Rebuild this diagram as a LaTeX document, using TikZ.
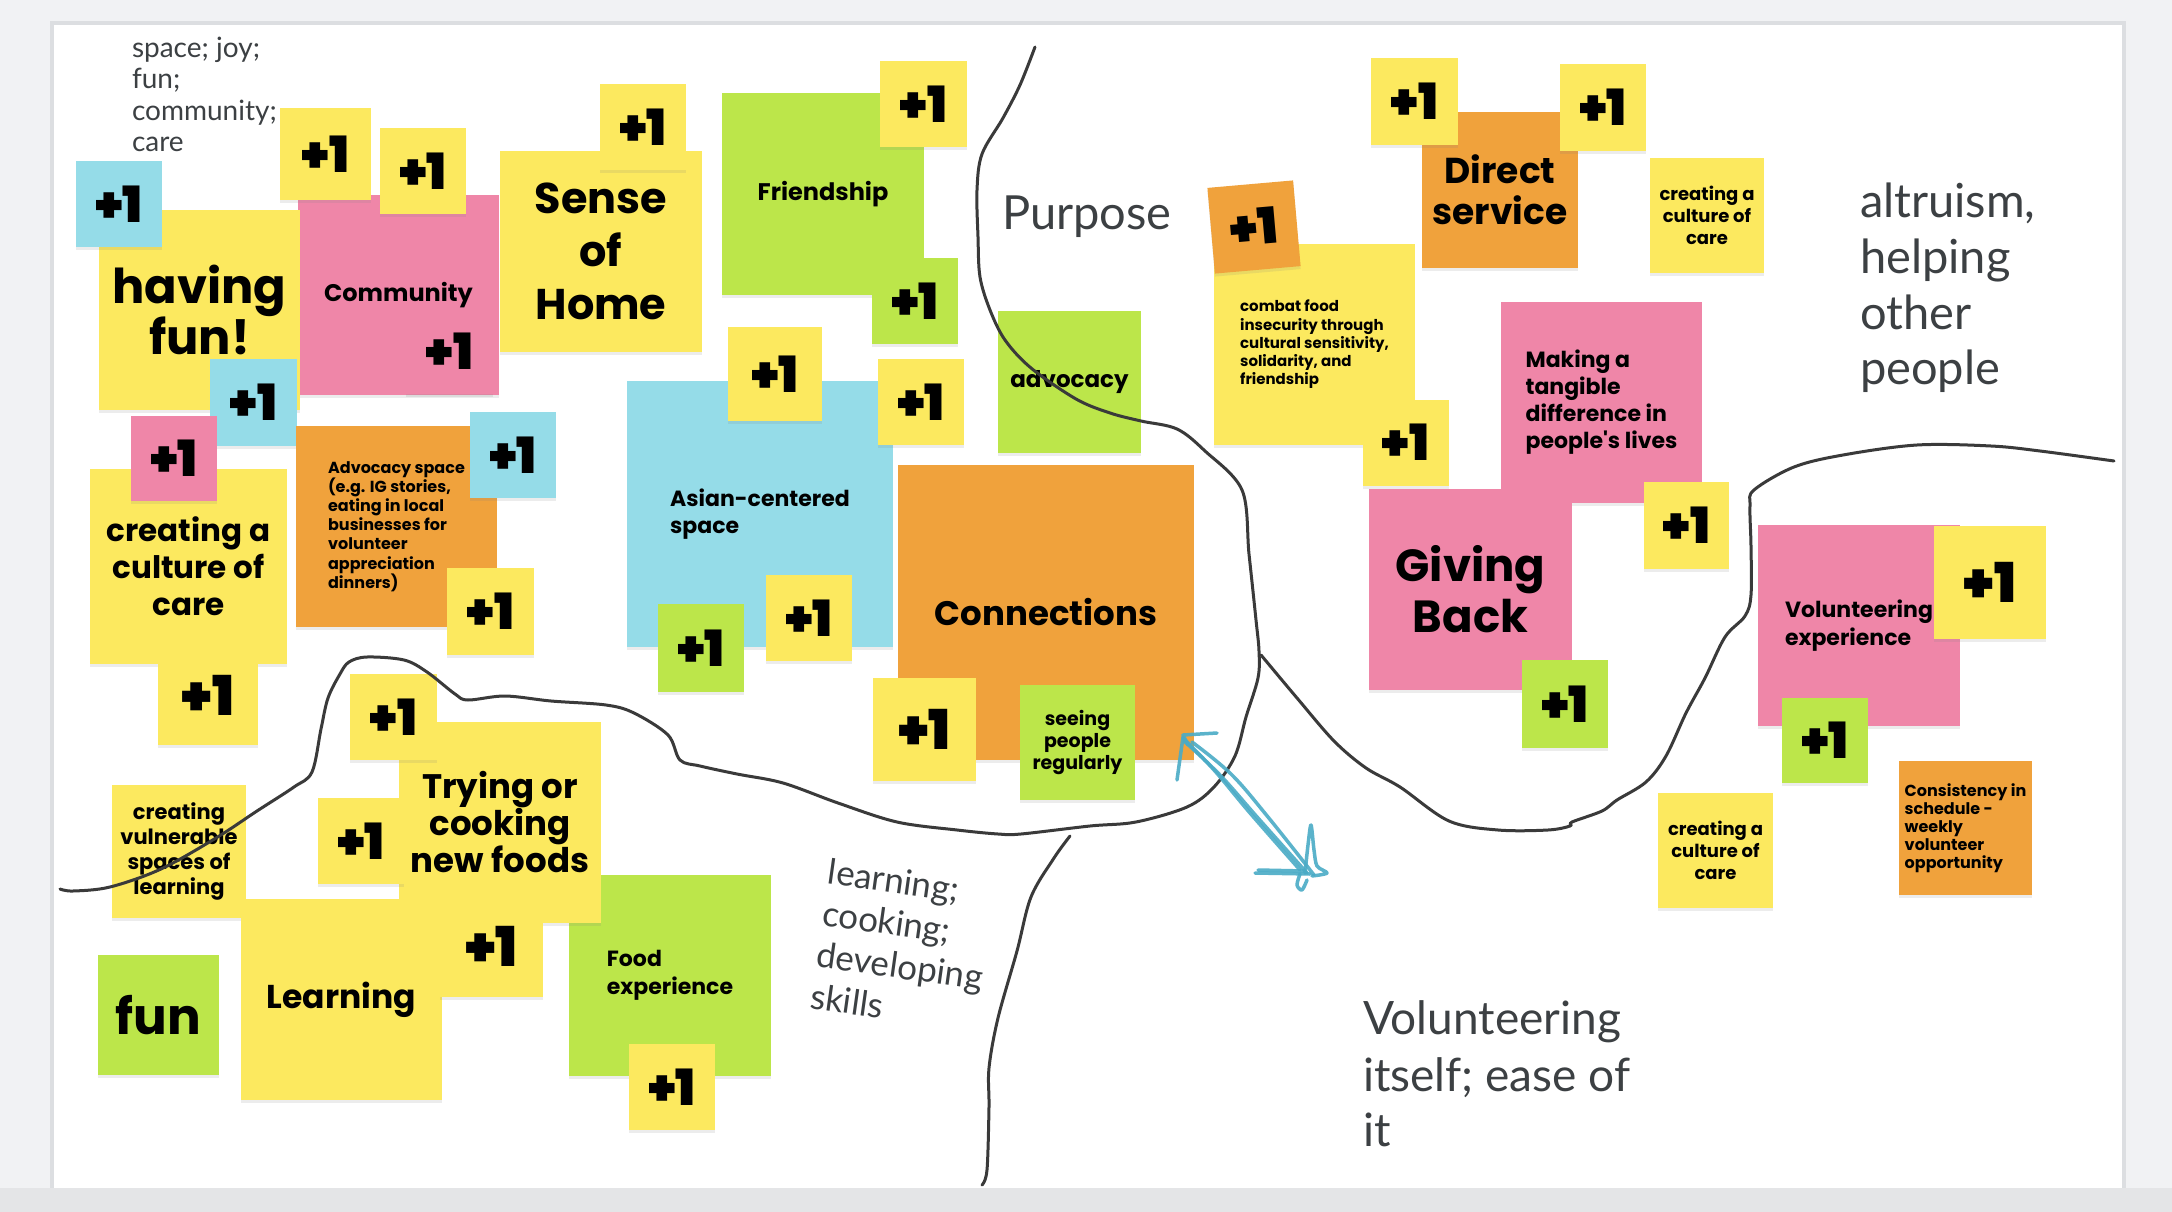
\documentclass[tikz,border=0pt]{standalone}
\usepackage{fontspec}
\usetikzlibrary{shadows}
\newfontfamily\pop{Poppins}
\newfontfamily\lat{Lato}
\IfFontExistsTF{Poppins Black}{\newfontfamily\popk{Poppins Black}}{\newcommand\popk{\pop\bfseries}}
\definecolor{yel}{HTML}{FCE95F}
\definecolor{pnk}{HTML}{EF86A8}
\definecolor{cyn}{HTML}{95DCE8}
\definecolor{grn}{HTML}{BCE64A}
\definecolor{org}{HTML}{F0A23C}
\definecolor{ink}{HTML}{3A3A3A}
\definecolor{lbl}{HTML}{3C4043}
\definecolor{arr}{HTML}{4AABC6}
\definecolor{pagebg}{HTML}{F1F2F4}
\definecolor{bandbg}{HTML}{E4E5E7}
\definecolor{boardedge}{HTML}{DCDEE1}
\tikzset{
  stk/.style={rectangle, inner sep=0pt, outer sep=0pt,
    drop shadow={shadow xshift=0pt, shadow yshift=-3pt, opacity=0.15}},
  wh/.style 2 args={minimum width=#1, minimum height=#2},
  txt/.style={inner sep=0pt, outer sep=0pt, text=black},
  fz/.style 2 args={txt, font=\pop\bfseries\fontsize{#1}{#2}\selectfont},
  ptxt/.style={txt, font=\popk\fontsize{50}{50}\selectfont},
  bptxt/.style={txt, font=\popk\fontsize{55}{55}\selectfont},
  lab/.style={inner sep=0pt, outer sep=0pt, text=lbl, anchor=base west},
  hand/.style={draw=ink, line width=3pt, line cap=round, line join=round},
  arrowst/.style={draw=arr, draw opacity=0.9, line width=3.5pt, line cap=round, line join=round}
}
\begin{document}
\begin{tikzpicture}[x=1pt,y=-1pt]
\useasboundingbox (0,0) rectangle (2172,1212);
\fill[pagebg] (0,0) rectangle (2172,1212);
\draw[line width=4pt, draw=boardedge, fill=white] (52,23) rectangle (2124,1205);
\fill[bandbg] (0,1188) rectangle (2172,1212);

% ---- top-left cluster
\node[stk, fill=pnk, wh={201}{200}] (community) at (398.5,295) {};
\node[fz={24}{28}] (communityT) at (community.center) {Community};
\node[stk, fill=yel, wh={201}{200}] (havingfun) at (199.5,310) {};
\node[fz={48}{50}, align=center] (havingfunT) at (havingfun.center) {having\\fun!};
\node[stk, fill=cyn, wh={86}{86}] (pA) at (119,204) {};
\node[ptxt] (pAt) at (pA.center) {+1};
\node[stk, fill=yel, wh={91}{92}] (pB) at (325.5,154) {};
\node[ptxt] (pBt) at (pB.center) {+1};
\node[stk, fill=yel, wh={86}{86}] (pC) at (423,171) {};
\node[ptxt] (pCt) at (pC.center) {+1};
\node[stk, fill=pnk, wh={87}{85}] (pD) at (449.5,351.5) {};
\node[ptxt] (pDt) at (pD.center) {+1};
\node[stk, fill=yel, wh={202}{201}] (sense) at (601,251.5) {};
\node[fz={43}{53}, align=center] (senseT) at (sense.center) {Sense\\of\\Home};
\node[stk, fill=yel, wh={86}{86}] (pE) at (643,127) {};
\node[ptxt] (pEt) at (pE.center) {+1};
\node[stk, fill=yel, wh={197}{195}] (culture1) at (188.5,566.5) {};
\node[fz={31}{37}, align=center] (culture1T) at (culture1.center) {creating a\\culture of\\care};
\node[stk, fill=cyn, wh={87}{87}] (pF) at (253.5,402.5) {};
\node[ptxt] (pFt) at (pF.center) {+1};
\node[stk, fill=pnk, wh={86}{85}] (pG) at (174,458.5) {};
\node[ptxt] (pGt) at (pG.center) {+1};
\node[stk, fill=yel, wh={100}{100}] (pH) at (208,695) {};
\node[bptxt] (pHt) at (pH.center) {+1};
\node[stk, fill=org, wh={201}{201}] (advspace) at (396.5,526.5) {};
\node[fz={16}{19.2}, align=left] (advspaceT) at (advspace.center) {Advocacy space\\(e.g. IG stories,\\eating in local\\businesses for\\volunteer\\appreciation\\dinners)};
\node[stk, fill=cyn, wh={86}{86}] (pI) at (513,455) {};
\node[ptxt] (pIt) at (pI.center) {+1};
\node[stk, fill=yel, wh={87}{87}] (pJ) at (490.5,611.5) {};
\node[ptxt] (pJt) at (pJ.center) {+1};

% ---- middle top
\node[stk, fill=grn, wh={202}{202}] (friend) at (823,194) {};
\node[fz={24}{28}] (friendT) at (friend.center) {Friendship};
\node[stk, fill=yel, wh={87}{86}] (pK) at (923.5,104) {};
\node[ptxt] (pKt) at (pK.center) {+1};
\node[stk, fill=grn, wh={86}{86}] (pL) at (915,301) {};
\node[ptxt] (pLt) at (pL.center) {+1};
\node[stk, fill=cyn, wh={266}{266}] (asian) at (760,514) {};
\node[fz={22}{27}, align=left] (asianT) at (asian.center) {Asian-centered\\space};
\node[stk, fill=yel, wh={94}{94}] (pM) at (775,374) {};
\node[ptxt] (pMt) at (pM.center) {+1};
\node[stk, fill=yel, wh={86}{86}] (pN) at (921,402) {};
\node[ptxt] (pNt) at (pN.center) {+1};
\node[stk, fill=grn, wh={86}{88}] (pO) at (701,648) {};
\node[ptxt] (pOt) at (pO.center) {+1};
\node[stk, fill=yel, wh={86}{86}] (pP) at (809,618) {};
\node[ptxt] (pPt) at (pP.center) {+1};
\node[stk, fill=grn, wh={143}{142}] (advoc) at (1069.5,382) {};
\node[fz={23}{27}] (advocT) at (advoc.center) {advocacy};
\node[stk, fill=org, wh={296}{295}] (conn) at (1046,612.5) {};
\node[fz={34}{40}] (connT) at (conn.center) {Connections};
\node[stk, fill=yel, wh={103}{103}] (pQ) at (924.5,729.5) {};
\node[bptxt] (pQt) at (pQ.center) {+1};
\node[stk, fill=grn, wh={115}{115}] (seeing) at (1077.5,742.5) {};
\node[fz={19}{22}, align=center] (seeingT) at (seeing.center) {seeing\\people\\regularly};

% ---- right top
\node[stk, fill=yel, wh={201}{201}] (combat) at (1314.5,344.5) {};
\node[fz={15}{18.3}, align=left] (combatT) at (combat.center) {combat food\\insecurity through\\cultural sensitivity,\\solidarity, and\\friendship};
\node[stk, fill=org, wh={86}{86}, rotate=5] (pR) at (1254,227) {};
\node[ptxt, rotate=5] (pRt) at (pR.center) {+1};
\node[stk, fill=yel, wh={86}{86}] (pS) at (1405.5,442.5) {};
\node[ptxt] (pSt) at (pS.center) {+1};
\node[stk, fill=org, wh={156}{156}] (direct) at (1500,190) {};
\node[fz={36}{41}, align=center] (directT) at (direct.center) {Direct\\service};
\node[stk, fill=yel, wh={87}{87}] (pT) at (1414.5,101.5) {};
\node[ptxt] (pTt) at (pT.center) {+1};
\node[stk, fill=yel, wh={86}{87}] (pU) at (1603,107.5) {};
\node[ptxt] (pUt) at (pU.center) {+1};
\node[stk, fill=yel, wh={114}{115}] (culture2) at (1707,215.5) {};
\node[fz={18}{22}, align=center] (culture2T) at (culture2.center) {creating a\\culture of\\care};
\node[stk, fill=pnk, wh={201}{201}] (making) at (1601.5,402.5) {};
\node[fz={22}{27}, align=left] (makingT) at (making.center) {Making a\\tangible\\difference in\\people's lives};
\node[stk, fill=pnk, wh={203}{201}] (giving) at (1470.5,589.5) {};
\node[fz={45}{51}, align=center] (givingT) at (giving.center) {Giving\\Back};
\node[stk, fill=yel, wh={85}{87}] (pV) at (1686.5,525.5) {};
\node[ptxt] (pVt) at (pV.center) {+1};
\node[stk, fill=grn, wh={86}{88}] (pW) at (1565,704) {};
\node[ptxt] (pWt) at (pW.center) {+1};
\node[stk, fill=pnk, wh={202}{201}] (volexp) at (1859,625.5) {};
\node[fz={22}{28}, align=left] (volexpT) at (volexp.center) {Volunteering\\experience};
\node[stk, fill=yel, wh={112}{113}] (pX) at (1990,582.5) {};
\node[bptxt] (pXt) at (pX.center) {+1};
\node[stk, fill=grn, wh={86}{85}] (pY) at (1825,740.5) {};
\node[ptxt] (pYt) at (pY.center) {+1};
\node[stk, fill=yel, wh={115}{115}] (culture3) at (1715.5,850.5) {};
\node[fz={18}{22}, align=center] (culture3T) at (culture3.center) {creating a\\culture of\\care};
\node[stk, fill=org, wh={133}{134}] (consist) at (1965.5,828) {};
\node[fz={16}{18}, align=left] (consistT) at (consist.center) {Consistency in\\schedule -\\weekly\\volunteer\\opportunity};

% ---- bottom left
\node[stk, fill=yel, wh={134}{133}] (vulner) at (179,851.5) {};
\node[fz={21}{25}, align=center] (vulnerT) at (vulner.center) {creating\\vulnerable\\spaces of\\learning};
\node[stk, fill=grn, wh={202}{201}] (food) at (670,975.5) {};
\node[fz={22}{28}, align=left] (foodT) at (food.center) {Food\\experience};
\node[stk, fill=yel, wh={202}{201}] (trying) at (500,822.5) {};
\node[fz={34}{37}, align=center] (tryingT) at (trying.center) {Trying or\\cooking\\new foods};
\node[stk, fill=yel, wh={87}{86}] (pZ) at (393.5,717) {};
\node[ptxt] (pZt) at (pZ.center) {+1};
\node[stk, fill=yel, wh={86}{86}] (pAA) at (361,841) {};
\node[ptxt] (pAAt) at (pAA.center) {+1};
\node[stk, fill=yel, wh={201}{201}] (learning) at (341.5,999.5) {};
\node[fz={33}{38}] (learningT) at (learning.center) {Learning};
\node[stk, fill=yel, wh={103}{102}] (pAB) at (491.5,946) {};
\node[bptxt] (pABt) at (pAB.center) {+1};
\node[stk, fill=grn, wh={121}{120}] (fun) at (158.5,1015) {};
\node[fz={50}{55}] (funT) at (fun.center) {fun};
\node[stk, fill=yel, wh={86}{86}] (pAC) at (672,1087) {};
\node[ptxt] (pACt) at (pAC.center) {+1};

% ---- hand-drawn region lines
\draw[hand] plot[smooth, tension=0.55] coordinates {(1035,47) (1020,85) (1003,118) (982,154) (977,190) (978,237) (980,277) (990,310) (1005,340) (1031,368) (1076,399) (1110,413) (1141,421) (1177,429) (1205,451) (1242,490) (1249,554) (1256,620) (1259,651) (1258,678) (1246,717) (1235,756) (1214,787) (1187,807) (1136,822) (1090,826) (1021,834) (998,834) (957,830) (897,822) (838,803) (783,783) (737,774) (700,766) (680,760) (668,735) (634,713) (606,705) (551,701) (505,696) (468,700) (455,694) (427,672) (404,660) (367,657) (349,662) (340,674) (328,698) (321,729) (312,772) (294,787) (257,811) (216,838) (161,869) (110,887) (73,891) (60,889)};
\draw[hand] plot[smooth, tension=0.55] coordinates {(1070,836) (1054,858) (1031,897) (1017,951) (998,1018) (989,1068) (989,1107) (987,1170) (982,1185)};
\draw[hand] plot[smooth, tension=0.55] coordinates {(1261,655) (1297,698) (1334,741) (1366,768) (1400,787) (1449,821) (1498,830) (1548,830) (1570,826) (1572,822) (1602,811) (1617,800) (1646,782) (1666,756) (1686,713) (1705,678) (1725,637) (1745,616) (1751,595) (1751,546) (1750,506) (1754,490) (1794,467) (1843,455) (1917,445) (1991,446) (2040,451) (2114,461)};

% ---- blue hand-drawn double arrow
\draw[arrowst] plot[smooth, tension=0.6] coordinates {(1184,741) (1220,775) (1258,818) (1307,873)};
\draw[arrowst] plot[smooth, tension=0.6] coordinates {(1192,742) (1231,774) (1268,817) (1314,875)};
\draw[arrowst] plot[smooth, tension=0.6] coordinates {(1183,738) (1214,770) (1250,813) (1300,870)};
\draw[arrowst] (1217,733) -- (1183,735) -- (1188,745);
\draw[arrowst] (1183,737) -- (1177,780);
\draw[arrowst] (1255,873) -- (1310,874);
\draw[arrowst] (1258,870) -- (1305,871);
\draw[arrowst] plot[smooth, tension=0.5] coordinates {(1305,873) (1308,845) (1311,825) (1314,850) (1317,866) (1327,873) (1312,876)};
\draw[arrowst] plot[smooth] coordinates {(1300,874) (1297,885) (1302,890) (1307,880)};

% ---- labels
\node[lab, font=\lat\fontsize{28}{31}\selectfont] (sp1) at (132,58) {space; joy;};
\node[lab, font=\lat\fontsize{28}{31}\selectfont] (sp2) at (132,89) {fun;};
\node[lab, font=\lat\fontsize{28}{31}\selectfont] (sp3) at (132,121) {community;};
\node[lab, font=\lat\fontsize{28}{31}\selectfont] (sp4) at (132,152) {care};
\node[lab, font=\lat\fontsize{47}{50}\selectfont] (purpose) at (1002,229) {Purpose};
\node[lab, font=\lat\fontsize{47}{50}\selectfont] (al1) at (1860,217) {altruism,};
\node[lab, font=\lat\fontsize{47}{50}\selectfont] (al2) at (1860,273) {helping};
\node[lab, font=\lat\fontsize{47}{50}\selectfont] (al3) at (1860,329) {other};
\node[lab, font=\lat\fontsize{47}{50}\selectfont] (al4) at (1860,384) {people};
\node[lab, font=\lat\fontsize{46}{50}\selectfont] (vo1) at (1363,1034) {Volunteering};
\node[lab, font=\lat\fontsize{46}{50}\selectfont] (vo2) at (1363,1091) {itself; ease of};
\node[lab, font=\lat\fontsize{46}{50}\selectfont] (vo3) at (1363,1146) {it};
\node[inner sep=0pt, outer sep=0pt, text=lbl, align=left, anchor=north west, rotate=-8,
      font=\lat\fontsize{35}{42}\selectfont] (skills) at (830.5,858) {learning;\\cooking;\\developing\\skills};
\end{tikzpicture}
\end{document}
